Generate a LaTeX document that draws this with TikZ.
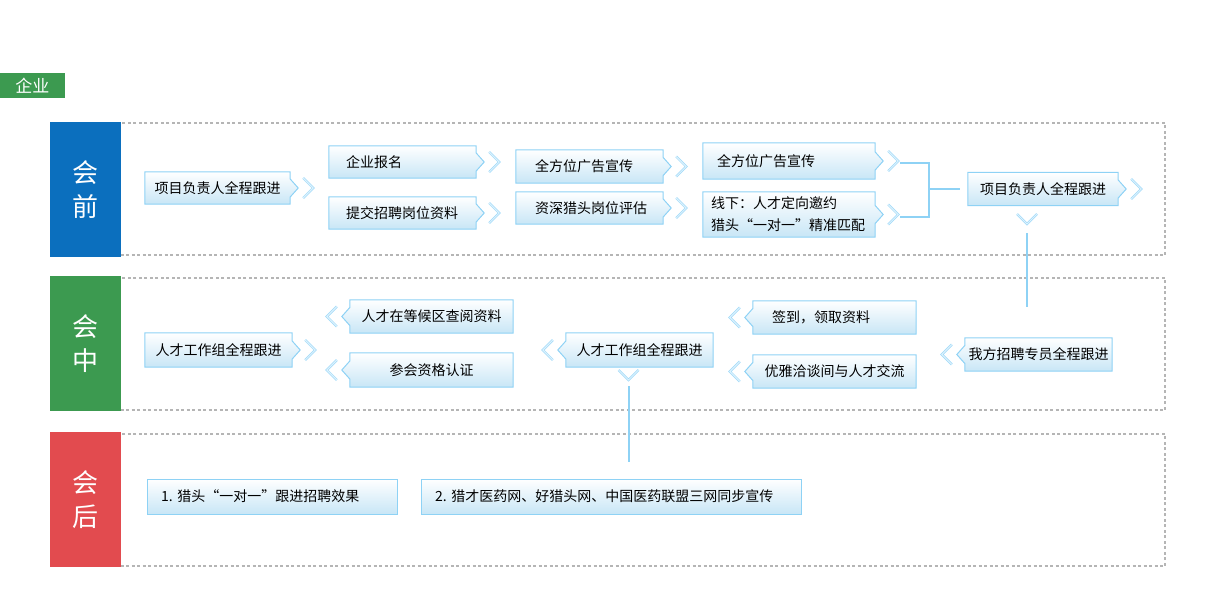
\documentclass[tikz,border=0pt]{standalone}
\usepackage{fontspec}
\setmainfont{Noto Sans CJK SC}
\usetikzlibrary{calc,positioning,backgrounds}
\definecolor{preblue}{HTML}{0B6FBE}
\definecolor{midgreen}{HTML}{3C9A50}
\definecolor{postred}{HTML}{E24B4F}
\definecolor{boxedge}{HTML}{8ED2F5}
\definecolor{boxfill}{HTML}{C8E6F6}
\definecolor{chevblue}{HTML}{9FD9F8}
\definecolor{framegray}{HTML}{B5B5B5}
\tikzstyle{band}=[rectangle, minimum width=71pt, inner sep=0pt, text=white, align=center, font=\fontsize{26}{34}\selectfont]
\tikzstyle{secframe}=[draw=framegray, line width=1.3pt, dash pattern=on 3pt off 2.5pt]
\tikzstyle{flow}=[rectangle, inner ysep=0pt, align=left, font=\fontsize{14}{22}\selectfont, text=black]
\tikzstyle{plainbox}=[flow, draw=boxedge, line width=1pt, top color=white, bottom color=boxfill]
\tikzstyle{boxshape}=[draw=boxedge, line width=1pt, top color=white, bottom color=boxfill]
\tikzstyle{chev}=[draw=chevblue, line width=0.7pt, double=chevblue!35, double distance=1pt]
\tikzstyle{link}=[draw=boxedge, line width=2pt]
% box with a point and a chevron on the right / left
\newcommand{\rightnotch}[1]{%
  \begin{scope}[on background layer]
    \draw[boxshape] (#1.north west) -- (#1.north east) -- ($(#1.east)+(0,-9)$) -- ($(#1.east)+(8,0)$)
      -- ($(#1.east)+(0,9)$) -- (#1.south east) -- (#1.south west) -- cycle;
  \end{scope}
  \draw[chev] ($(#1.east)+(13,-10)$) -- ($(#1.east)+(23,0)$) -- ($(#1.east)+(13,10)$);
}
\newcommand{\leftnotch}[1]{%
  \begin{scope}[on background layer]
    \draw[boxshape] (#1.north east) -- (#1.north west) -- ($(#1.west)+(0,-9)$) -- ($(#1.west)+(-8,0)$)
      -- ($(#1.west)+(0,9)$) -- (#1.south west) -- (#1.south east) -- cycle;
  \end{scope}
  \draw[chev] ($(#1.west)+(-13,-10)$) -- ($(#1.west)+(-23,0)$) -- ($(#1.west)+(-13,10)$);
}
\newcommand{\downmark}[1]{\draw[chev] ($(#1)+(-10,-5)$) -- ($(#1)+(0,5)$) -- ($(#1)+(10,-5)$);}

\begin{document}
\begin{tikzpicture}[x=1pt,y=-1pt]
\useasboundingbox (0,0) rectangle (1216,616);

\node[rectangle, fill=midgreen, text=white, minimum width=65pt, minimum height=25pt, inner sep=0pt,
  font=\fontsize{17}{17}\selectfont] (tag) at (32.5,85.5) {企业};

% sections
\draw[secframe] (115,123) rectangle (1165,255);
\draw[secframe] (115,278) rectangle (1165,410);
\draw[secframe] (115,434) rectangle (1165,566);
\node[band, fill=preblue, minimum height=135pt] (pre) at (85.5,189.5) {会\\前};
\node[band, fill=midgreen, minimum height=135pt] (mid) at (85.5,343.5) {会\\中};
\node[band, fill=postred, minimum height=135pt] (post) at (85.5,499.5) {会\\后};

% before
\node[flow, minimum width=145pt, minimum height=32pt, align=center] (leadPre) at (217.5,188) {项目负责人全程跟进};
\node[flow, text width=113pt, inner xsep=17pt, minimum height=32pt] (signUp) at (402.5,162) {企业报名};
\node[flow, text width=113pt, inner xsep=17pt, minimum height=32pt] (postInfo) at (402.5,213) {提交招聘岗位资料};
\node[flow, text width=109pt, inner xsep=19pt, minimum height=33pt] (adsA) at (589.5,166.5) {全方位广告宣传};
\node[flow, text width=109pt, inner xsep=19pt, minimum height=32pt] (assess) at (589.5,208) {资深猎头岗位评估};
\node[flow, text width=144pt, inner xsep=14pt, minimum height=36pt] (adsB) at (789,161) {全方位广告宣传};
\node[flow, text width=156pt, inner xsep=8pt, minimum height=45pt] (offline) at (789,214.5) {线下：人才定向邀约\\猎头“一对一”精准匹配};
\node[flow, minimum width=150pt, minimum height=33pt, align=center] (leadPost) at (1043,189) {项目负责人全程跟进};
\foreach \n in {leadPre,signUp,postInfo,adsA,assess,adsB,offline,leadPost} {\rightnotch{\n}}

% during
\node[flow, minimum width=147pt, minimum height=33pt, align=center] (staff) at (1038.5,354.5) {我方招聘专员全程跟进};
\node[flow, text width=125pt, inner xsep=19pt, minimum height=33pt] (checkIn) at (834.5,317.5) {签到，领取资料};
\node[flow, minimum width=163pt, minimum height=33pt, align=center] (talk) at (834.5,371.5) {优雅洽谈间与人才交流};
\node[flow, minimum width=147pt, minimum height=34pt, align=center] (teamMid) at (639.5,350) {人才工作组全程跟进};
\node[flow, minimum width=163pt, minimum height=33pt, align=center] (browse) at (431.5,316.5) {人才在等候区查阅资料};
\node[flow, minimum width=163pt, minimum height=34pt, align=center] (verify) at (431.5,370) {参会资格认证};
\node[flow, minimum width=147pt, minimum height=34pt, align=center] (teamLeft) at (218.5,350) {人才工作组全程跟进};
\foreach \n in {staff,checkIn,talk,teamMid,browse,verify} {\leftnotch{\n}}
\rightnotch{teamLeft}

% after
\node[plainbox, text width=222pt, inner xsep=14pt, minimum height=35pt] (followUp) at (272,496.5) {1.\ 猎头“一对一”跟进招聘效果};
\node[plainbox, text width=352pt, inner xsep=14pt, minimum height=35pt] (promo) at (611,496.5) {2.\ 猎才医药网、好猎头网、中国医药联盟三网同步宣传};

% connectors
\coordinate (joinT) at (900,163);
\coordinate (joinB) at (900,217);
\coordinate (joinM) at (929,189);
\coordinate (joinE) at (960,189);
\draw[link] (joinT) -| (joinM) |- (joinB);
\draw[link] (joinM) -- (joinE);

\coordinate (markA) at (1027,219);
\coordinate (dropA) at (1027,233);
\coordinate (endA) at (1027,307);
\downmark{markA}
\draw[link] (dropA) -- (endA);

\coordinate (markB) at (628.5,375);
\coordinate (dropB) at (628.5,386);
\coordinate (endB) at (628.5,462);
\downmark{markB}
\draw[link] (dropB) -- (endB);
\end{tikzpicture}
\end{document}
